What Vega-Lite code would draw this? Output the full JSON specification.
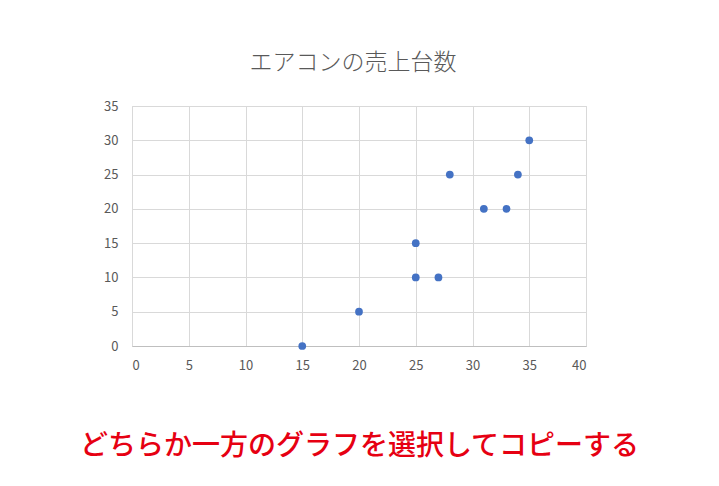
{
  "$schema": "https://vega.github.io/schema/vega-lite/v6.json",
  "autosize": {"type": "none"},
  "width": 454,
  "height": 240,
  "padding": {"left": 132, "top": 106, "right": 133, "bottom": 140},
  "background": "white",
  "title": {
    "text": "エアコンの売上台数",
    "font": "Noto Sans CJK JP",
    "fontSize": 23,
    "fontWeight": 300,
    "color": "#595959",
    "anchor": "middle",
    "offset": 25,
    "dx": -6
  },
  "data": {
    "values": [
      {"x": 15, "y": 0},
      {"x": 20, "y": 5},
      {"x": 25, "y": 10},
      {"x": 25, "y": 15},
      {"x": 27, "y": 10},
      {"x": 28, "y": 25},
      {"x": 31, "y": 20},
      {"x": 33, "y": 20},
      {"x": 34, "y": 25},
      {"x": 35, "y": 30}
    ]
  },
  "mark": {"type": "point", "filled": true, "color": "#4472c4", "opacity": 1, "size": 60},
  "encoding": {
    "x": {
      "field": "x",
      "type": "quantitative",
      "scale": {"domain": [0, 40], "nice": false, "zero": true},
      "axis": {
        "values": [0, 5, 10, 15, 20, 25, 30, 35, 40],
        "title": "どちらか一方のグラフを選択してコピーする",
        "titleFont": "Noto Sans CJK JP",
        "titleFontSize": 28,
        "titleFontWeight": 500,
        "titleColor": "#e60012",
        "titlePadding": 60,
        "domainColor": "#bfbfbf",
        "ticks": false,
        "labelPadding": 13,
        "labelFont": "Noto Sans CJK JP",
        "labelFontSize": 13,
        "labelColor": "#595959",
        "gridColor": "#d9d9d9"
      }
    },
    "y": {
      "field": "y",
      "type": "quantitative",
      "scale": {"domain": [0, 35], "nice": false},
      "axis": {
        "values": [0, 5, 10, 15, 20, 25, 30, 35],
        "title": null,
        "domain": false,
        "ticks": false,
        "labelPadding": 14,
        "labelFont": "Noto Sans CJK JP",
        "labelFontSize": 13,
        "labelColor": "#595959",
        "gridColor": "#d9d9d9"
      }
    }
  },
  "config": {
    "view": {"stroke": "#d9d9d9"}
  }
}
